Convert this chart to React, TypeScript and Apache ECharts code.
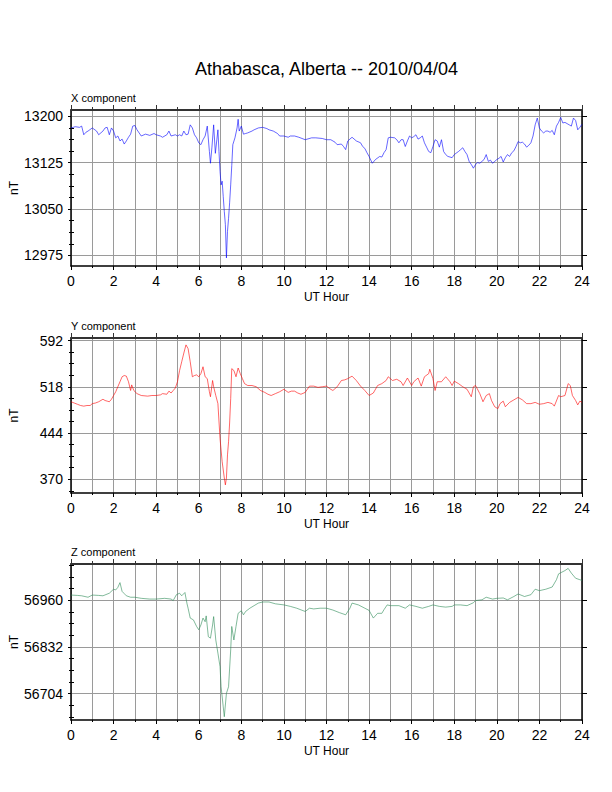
import React, { useEffect, useRef } from "react";
import * as echarts from "echarts";

const TITLE = "Athabasca, Alberta -- 2010/04/04";
const PANEL_TITLES = ["X component", "Y component", "Z component"];
const X_AXIS_NAME = "UT Hour";
const Y_AXIS_NAME = "nT";

// X component (nT)
const X_HOURS = [0.0,0.2,0.4,0.5,0.6,0.7,0.8,1.0,1.2,1.3,1.5,1.6,1.7,1.8,1.9,2.0,2.1,2.2,2.3,2.4,2.5,2.6,2.7,2.8,2.9,3.0,3.1,3.3,3.5,3.7,3.9,4.0,4.2,4.3,4.5,4.6,4.7,4.9,5.0,5.1,5.2,5.3,5.4,5.5,5.6,5.7,5.8,5.9,6.0,6.1,6.2,6.3,6.4,6.5,6.55,6.62,6.7,6.78,6.85,6.9,6.95,7.0,7.05,7.1,7.15,7.2,7.25,7.3,7.35,7.4,7.45,7.5,7.55,7.6,7.7,7.8,7.85,7.9,8.0,8.1,8.2,8.3,8.5,8.6,8.8,9.0,9.2,9.3,9.5,9.7,9.8,10.0,10.2,10.3,10.5,10.7,11.0,11.3,11.5,11.8,12.0,12.2,12.4,12.5,12.7,12.8,12.9,13.0,13.2,13.4,13.6,13.7,13.8,13.9,14.0,14.15,14.3,14.5,14.6,14.7,14.8,14.9,15.0,15.2,15.3,15.4,15.5,15.6,15.7,15.8,15.9,16.0,16.1,16.2,16.3,16.4,16.5,16.6,16.7,16.8,16.9,17.0,17.1,17.2,17.3,17.4,17.5,17.6,17.7,17.9,18.0,18.2,18.3,18.4,18.5,18.6,18.7,18.8,18.9,19.0,19.1,19.2,19.3,19.4,19.5,19.6,19.7,19.8,19.9,20.0,20.1,20.2,20.3,20.4,20.5,20.6,20.7,20.8,20.9,21.0,21.1,21.2,21.3,21.4,21.5,21.6,21.7,21.8,21.9,22.0,22.1,22.2,22.3,22.4,22.5,22.6,22.7,22.8,22.9,23.0,23.1,23.2,23.3,23.4,23.5,23.6,23.7,23.8,23.9,24.0];
const X_VALUES = [13181,13183,13182,13184,13170,13174,13176,13181,13176,13170,13176,13181,13182,13170,13181,13176,13165,13168,13160,13163,13155,13160,13166,13171,13184,13185,13178,13168,13171,13169,13172,13170,13168,13166,13170,13176,13168,13170,13168,13170,13168,13176,13170,13171,13186,13181,13170,13165,13157,13154,13162,13168,13184,13143,13124,13150,13186,13140,13162,13178,13143,13111,13089,13095,13070,13046,13025,12971,13014,13035,13060,13089,13120,13154,13165,13181,13195,13176,13184,13171,13172,13173,13176,13178,13181,13182,13180,13178,13176,13172,13168,13168,13166,13168,13168,13166,13162,13165,13165,13164,13162,13162,13158,13154,13155,13151,13146,13160,13166,13160,13157,13151,13148,13141,13135,13124,13130,13135,13134,13141,13146,13165,13166,13165,13162,13157,13162,13162,13151,13160,13168,13165,13167,13170,13163,13165,13168,13157,13150,13143,13141,13151,13162,13160,13150,13162,13143,13138,13135,13133,13138,13143,13146,13149,13143,13138,13127,13122,13116,13122,13125,13124,13127,13130,13138,13127,13129,13124,13127,13130,13132,13135,13126,13133,13138,13135,13141,13144,13151,13159,13157,13158,13155,13150,13153,13157,13168,13186,13197,13181,13176,13173,13176,13176,13174,13177,13170,13184,13190,13198,13189,13190,13188,13186,13184,13197,13193,13178,13182,13187];

// Y component (nT)
const Y_HOURS = [0.0,0.15,0.3,0.45,0.6,0.75,0.9,1.0,1.15,1.3,1.5,1.6,1.7,1.8,1.9,2.0,2.1,2.2,2.3,2.4,2.5,2.6,2.7,2.8,2.85,2.95,3.1,3.3,3.6,3.8,4.0,4.2,4.3,4.5,4.6,4.7,4.8,4.9,5.0,5.1,5.2,5.3,5.4,5.5,5.6,5.7,5.8,5.9,6.0,6.1,6.2,6.3,6.4,6.5,6.55,6.65,6.7,6.8,6.9,7.0,7.1,7.2,7.25,7.3,7.35,7.4,7.45,7.5,7.55,7.65,7.75,7.85,7.95,8.05,8.15,8.3,8.5,8.7,8.9,9.1,9.25,9.4,9.6,9.8,10.0,10.2,10.35,10.5,10.65,10.8,11.0,11.2,11.4,11.6,11.8,12.0,12.15,12.3,12.5,12.7,12.85,13.0,13.2,13.4,13.6,13.8,14.0,14.2,14.4,14.6,14.8,14.9,15.1,15.3,15.5,15.6,15.8,16.0,16.1,16.3,16.45,16.6,16.8,16.85,17.0,17.1,17.2,17.4,17.6,17.8,17.9,18.0,18.2,18.4,18.6,18.8,18.9,19.0,19.2,19.35,19.5,19.65,19.75,19.9,20.05,20.15,20.3,20.4,20.6,20.8,21.0,21.2,21.4,21.6,21.8,22.0,22.2,22.4,22.6,22.7,22.9,23.0,23.2,23.35,23.45,23.55,23.7,23.8,23.9,24.0];
const Y_VALUES = [494,492,490,488,487,488,488,491,492,494,498,496,495,494,498,504,510,518,526,534,536,535,526,512,521,512,507,504,503,504,504,505,507,506,511,508,512,516,526,544,558,572,585,579,558,534,536,537,534,539,550,534,531,510,502,528,518,504,491,435,398,372,361,372,409,430,460,499,547,544,534,548,539,531,523,520,520,518,512,509,506,504,507,510,514,509,511,511,508,506,509,519,519,517,518,519,515,512,518,528,529,531,535,528,519,512,504,508,520,523,528,534,528,530,526,520,532,520,526,532,519,534,539,546,531,512,526,526,534,526,520,527,523,518,514,502,518,520,507,494,504,507,496,486,483,491,495,486,493,497,501,497,491,491,493,490,491,493,491,487,504,502,504,523,520,504,496,489,495,493];

// Z component (nT)
const Z_HOURS = [0.0,0.3,0.5,0.8,1.0,1.3,1.5,1.8,2.0,2.1,2.2,2.3,2.4,2.5,2.6,2.8,3.0,3.3,3.7,4.0,4.4,4.7,4.8,4.95,5.1,5.2,5.35,5.45,5.5,5.6,5.75,5.9,6.0,6.1,6.2,6.3,6.35,6.45,6.55,6.65,6.7,6.8,6.9,7.0,7.05,7.15,7.2,7.3,7.4,7.5,7.55,7.65,7.75,7.85,8.0,8.1,8.2,8.4,8.6,8.8,9.0,9.3,9.6,10.0,10.3,10.6,11.0,11.2,11.4,11.7,12.0,12.3,12.6,12.9,13.1,13.2,13.5,13.8,14.0,14.2,14.4,14.6,14.7,14.85,15.0,15.4,15.7,15.9,16.2,16.5,16.8,17.0,17.3,17.6,17.9,18.0,18.3,18.6,18.9,19.0,19.3,19.5,19.8,20.0,20.3,20.5,20.8,21.0,21.3,21.6,21.8,22.0,22.3,22.6,22.8,22.9,23.2,23.35,23.5,23.7,23.9,24.0];
const Z_VALUES = [56974,56973,56972,56968,56974,56973,56972,56979,56990,56988,56995,57008,56984,56978,56972,56968,56968,56965,56963,56963,56965,56963,56959,56975,56979,56972,56981,56950,56938,56911,56906,56888,56879,56892,56911,56901,56917,56860,56856,56892,56915,56851,56815,56778,56723,56668,56641,56705,56723,56824,56888,56851,56888,56924,56931,56920,56929,56938,56945,56952,56955,56955,56950,56947,56943,56938,56929,56938,56936,56938,56938,56933,56926,56920,56938,56952,56947,56938,56932,56911,56924,56924,56934,56947,56945,56945,56938,56947,56943,56938,56943,56947,56943,56941,56943,56947,56947,56945,56953,56959,56961,56968,56963,56965,56966,56961,56970,56977,56970,56975,56990,56986,56990,56996,57016,57032,57041,57047,57034,57020,57016,57014];

// Axis ranges and tick labels
const X_RANGE = [12958, 13210];
const X_TICKS = [12975, 13050, 13125, 13200];
const X_MINOR = [12993.75, 13012.5, 13031.25, 13068.75, 13087.5, 13106.25, 13143.75, 13162.5, 13181.25];
const Y_RANGE = [348, 596];
const Y_TICKS = [370, 444, 518, 592];
const Y_MINOR = [351.5, 388.5, 407, 425.5, 462.5, 481, 499.5, 536.5, 555, 573.5];
const Z_RANGE = [56632, 57059];
const Z_TICKS = [56704, 56832, 56960];
const Z_MINOR = [56640, 56672, 56736, 56768, 56800, 56864, 56896, 56928, 56992, 57024, 57056];

const COLORS = ["#0000ff", "#ff0000", "#2e8b57"];
const FONT = "'Liberation Sans', Arial, Helvetica, sans-serif";

const PANELS = [
  { hours: X_HOURS, values: X_VALUES, range: X_RANGE, ticks: X_TICKS, minor: X_MINOR, top: 110, height: 156 },
  { hours: Y_HOURS, values: Y_VALUES, range: Y_RANGE, ticks: Y_TICKS, minor: Y_MINOR, top: 338, height: 155 },
  { hours: Z_HOURS, values: Z_VALUES, range: Z_RANGE, ticks: Z_TICKS, minor: Z_MINOR, top: 564, height: 156 },
];

const LEFT = 71;
const WIDTH = 511;
const GRID_COLOR = "#9a9a9a";

export default function App() {
  const ref = useRef<HTMLDivElement>(null);
  useEffect(() => {
    if (!ref.current) return;
    const chart = echarts.init(ref.current, undefined, { renderer: "svg" });
    const grids: any[] = [];
    const xAxes: any[] = [];
    const yAxes: any[] = [];
    const series: any[] = [];
    const graphics: any[] = [
      {
        type: "text",
        x: LEFT + WIDTH / 2,
        y: 69,
        style: { text: TITLE, fontSize: 18, fontFamily: FONT, fill: "#000", align: "center", verticalAlign: "middle" },
      },
    ];
    PANELS.forEach((p, i) => {
      grids.push({ left: LEFT, top: p.top, width: WIDTH, height: p.height, containLabel: false, outerBoundsMode: "none" });
      xAxes.push({
        gridIndex: i,
        type: "value",
        position: "bottom",
        min: 0,
        max: 24,
        interval: 2,
        axisLine: { show: true, onZero: false, lineStyle: { color: "#000", width: 1.5 } },
        axisTick: { show: true, inside: false, length: 4, lineStyle: { color: "#000", width: 1 } },
        minorTick: { show: true, splitNumber: 2, length: 2, lineStyle: { color: "#000", width: 1 } },
        splitLine: { show: true, lineStyle: { color: GRID_COLOR, width: 1 } },
        minorSplitLine: { show: true, lineStyle: { color: GRID_COLOR, width: 1 } },
        axisLabel: { fontSize: 14, color: "#000", fontFamily: FONT, margin: 8, formatter: (v: number) => String(v) },
        name: X_AXIS_NAME,
        nameLocation: "middle",
        nameGap: 25,
        nameTextStyle: { fontSize: 12, color: "#000", fontFamily: FONT },
      });
      xAxes.push({
        gridIndex: i,
        type: "value",
        position: "top",
        min: 0,
        max: 24,
        interval: 2,
        axisLine: { show: true, onZero: false, lineStyle: { color: "#333", width: 2 } },
        axisTick: { show: true, inside: false, length: 5, lineStyle: { color: "#333", width: 1 } },
        minorTick: { show: true, splitNumber: 2, length: 3, lineStyle: { color: "#333", width: 1 } },
        splitLine: { show: false },
        axisLabel: { show: false },
      });
      const base = {
        gridIndex: i,
        type: "value",
        min: p.range[0],
        max: p.range[1],
        splitLine: { show: false },
        axisLabel: { show: false },
      };
      yAxes.push({
        ...base,
        position: "left",
        axisLine: { show: true, onZero: false, lineStyle: { color: "#000", width: 1.5 } },
        axisTick: { show: true, inside: false, length: 3, customValues: p.ticks, lineStyle: { color: "#000" } },
        axisLabel: {
          show: true,
          customValues: p.ticks,
          fontSize: 14,
          color: "#000",
          fontFamily: FONT,
          margin: 8,
          formatter: (v: number) => String(v),
        },
        splitLine: { show: true, lineStyle: { color: GRID_COLOR, width: 1 } },
      });
      yAxes.push({
        ...base,
        position: "left",
        offset: 0,
        axisLine: { show: false },
        axisTick: { show: true, inside: false, length: 2, customValues: p.minor, lineStyle: { color: "#000" } },
      });
      yAxes.push({
        ...base,
        position: "right",
        offset: 0,
        axisLine: { show: true, onZero: false, lineStyle: { color: "#000", width: 1.5 } },
        axisTick: { show: true, inside: false, length: 5, customValues: p.ticks, lineStyle: { color: "#000" } },
      });
      yAxes.push({
        ...base,
        position: "right",
        offset: 0,
        axisLine: { show: false },
        axisTick: { show: true, inside: false, length: 3, customValues: p.minor, lineStyle: { color: "#000" } },
      });
      series.push({
        type: "line",
        xAxisIndex: 2 * i,
        yAxisIndex: 4 * i,
        data: p.hours.map((h, k) => [h, p.values[k]]),
        showSymbol: false,
        symbol: "none",
        lineStyle: { color: COLORS[i], width: 0.6 },
        clip: true,
      });
      graphics.push({
        type: "text",
        x: LEFT,
        y: p.top - 12,
        style: { text: PANEL_TITLES[i], fontSize: 11, fontFamily: FONT, fill: "#000", align: "left", verticalAlign: "middle" },
      });
      graphics.push({
        type: "text",
        x: 14,
        y: p.top + p.height / 2,
        rotation: Math.PI / 2,
        style: { text: Y_AXIS_NAME, fontSize: 12, fontFamily: FONT, fill: "#000", align: "center", verticalAlign: "middle" },
      });
    });
    chart.setOption({
      animation: false,
      backgroundColor: "#fff",
      grid: grids,
      xAxis: xAxes,
      yAxis: yAxes,
      series,
      graphic: graphics,
    });
    return () => chart.dispose();
  }, []);
  return <div ref={ref} style={{ position: "absolute", left: 0, top: 0, width: 612, height: 792 }} />;
}
